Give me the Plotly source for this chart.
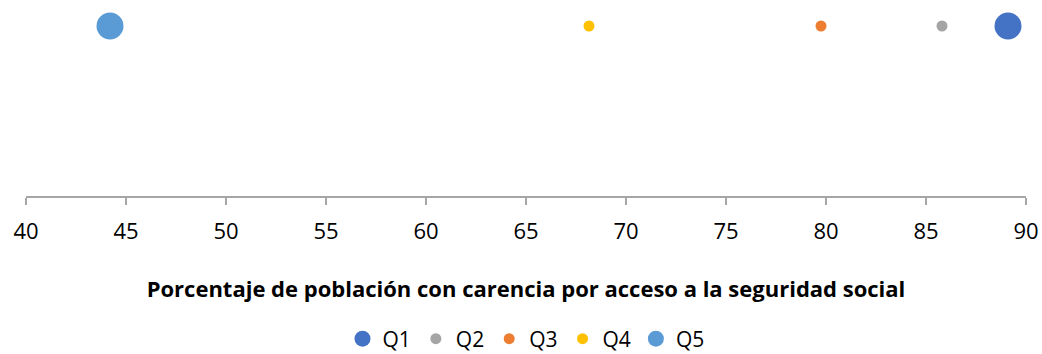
import plotly.graph_objects as go

# Quintiles and their share of population lacking social-security access (%)
quintiles = ["Q1", "Q2", "Q3", "Q4", "Q5"]
values = [89.1, 85.8, 79.75, 68.15, 44.2]
colors = ["#4472C4", "#A5A5A5", "#ED7D31", "#FFC000", "#5B9BD5"]
marker_sizes = [27, 11, 11, 11, 27]
y_level = 1.0

fig = go.Figure()
for name, val, col, size in zip(quintiles, values, colors, marker_sizes):
    fig.add_trace(go.Scatter(
        x=[val], y=[y_level], mode="markers", name=name,
        marker=dict(color=col, size=size, line=dict(width=0)),
        cliponaxis=False,
    ))

font_family = "Open Sans, Liberation Sans, Arial, sans-serif"

fig.update_layout(
    width=1042, height=354,
    margin=dict(l=26, r=16, t=0, b=158, pad=0, autoexpand=False),
    paper_bgcolor="white", plot_bgcolor="white",
    font=dict(family=font_family, color="#000000", size=22),
    showlegend=True,
    legend=dict(
        orientation="h", x=0.5, xanchor="center",
        yref="container", y=1 - 339 / 354, yanchor="middle",
        font=dict(size=21), itemsizing="trace", itemwidth=30,
        tracegroupgap=0, bgcolor="rgba(0,0,0,0)",
    ),
    xaxis=dict(
        range=[40, 90], dtick=5, tick0=40, automargin=False,
        showline=True, linecolor="#A6A6A6", linewidth=2,
        ticks="outside", ticklen=7, tickwidth=2, tickcolor="#A6A6A6",
        showgrid=False, zeroline=False,
        tickfont=dict(size=22, family=font_family),
        ticklabelstandoff=8,
        title=dict(
            text="<b>Porcentaje de población con carencia por acceso a la seguridad social</b>",
            font=dict(size=22, family=font_family),
            standoff=37,
        ),
    ),
    yaxis=dict(
        range=[0, 1.153], visible=False, showgrid=False, zeroline=False,
        automargin=False,
    ),
)

fig.write_html("out.html")
